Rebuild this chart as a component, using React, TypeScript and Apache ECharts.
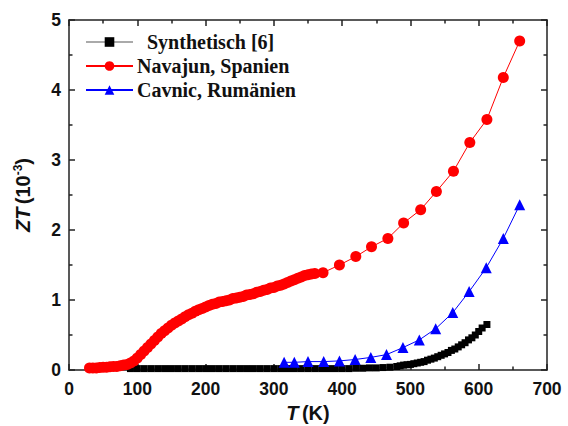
import React, { useEffect, useRef } from "react";
import * as echarts from "echarts";

const synthT = [90,100,110,120,130,140,150,160,170,180,190,200,210,220,230,240,250,260,270,280,290,300,310,320,330,340,350,360,370,380,390,400,410,420,430,440,450,460,470,480,485,490,495,500,505,510,515,520,525,530,535,540,545,550,555,560,565,570,575,580,585,590,595,600,605,612];
const synthZT = [0.02,0.02,0.02,0.02,0.02,0.02,0.02,0.02,0.02,0.02,0.02,0.02,0.02,0.02,0.02,0.02,0.02,0.02,0.02,0.02,0.02,0.02,0.02,0.02,0.02,0.02,0.02,0.02,0.02,0.02,0.02,0.02,0.02,0.025,0.025,0.03,0.03,0.035,0.04,0.05,0.06,0.07,0.075,0.08,0.09,0.1,0.11,0.12,0.14,0.155,0.17,0.19,0.21,0.23,0.25,0.28,0.3,0.33,0.36,0.39,0.43,0.46,0.5,0.55,0.6,0.65,0.75];

const navT = [30,35,40,45,50,55,60,65,70,75,80,85,90,95,100,105,110,115,120,125,130,135,140,145,150,155,160,165,170,175,180,185,190,195,200,205,210,215,220,225,230,235,240,245,250,255,260,265,270,275,280,285,290,295,300,305,310,315,320,325,330,335,340,345,350,355,360,372,396,420,443,467,490,515,538,563,587,612,636,660];
const navZT = [0.03,0.03,0.03,0.035,0.04,0.04,0.045,0.05,0.05,0.06,0.07,0.08,0.1,0.13,0.17,0.22,0.27,0.32,0.37,0.42,0.47,0.52,0.56,0.6,0.64,0.67,0.7,0.73,0.76,0.79,0.81,0.84,0.86,0.88,0.9,0.92,0.94,0.95,0.97,0.98,0.99,1.0,1.02,1.03,1.04,1.05,1.07,1.08,1.09,1.11,1.12,1.14,1.15,1.17,1.18,1.2,1.21,1.23,1.25,1.27,1.29,1.31,1.33,1.35,1.36,1.37,1.38,1.39,1.5,1.62,1.76,1.88,2.1,2.29,2.55,2.84,3.25,3.58,4.18,4.7];

const cavT = [315,330,350,373,396,419,442,465,489,513,537,562,586,611,636,660];
const cavZT = [0.11,0.11,0.12,0.12,0.13,0.15,0.18,0.22,0.32,0.43,0.59,0.82,1.12,1.46,1.88,2.36];

const xRange = { min: 0, max: 700, interval: 100 };
const yRange = { min: 0, max: 5, interval: 1 };

const zip = (a: number[], b: number[]) => a.map((v, i) => [v, b[i]]);

const INK = "#222";
const FONT = "Liberation Sans, Arial, sans-serif";
const mkLine = () => ({ show: true, onZero: false, lineStyle: { color: INK, width: 1.5 } });
const mkTick = () => ({ show: true, inside: true, length: 6, lineStyle: { color: INK, width: 1.5 } });
const mkMinor = () => ({ show: true, splitNumber: 2, length: 3.5, lineStyle: { color: INK, width: 1.5 } });
const mkLabel = (margin: number) => ({ fontFamily: FONT, fontWeight: "bold", fontSize: 17.5, color: "#111", margin });
const mkRich = () => ({
  i: { fontFamily: FONT, fontWeight: "bold", fontStyle: "italic", fontSize: 20, color: "#111" },
  n: { fontFamily: FONT, fontWeight: "bold", fontSize: 20, color: "#111" },
  s: { fontFamily: FONT, fontWeight: "bold", fontSize: 12, color: "#111", padding: [0, 0, 10, 0] },
});
const mirror = (range: object, position: string) => ({
  type: "value", position, ...range,
  axisLine: mkLine(), axisTick: mkTick(), minorTick: mkMinor(),
  splitLine: { show: false }, axisLabel: { show: false },
});

export default function App() {
  const ref = useRef<HTMLDivElement>(null);
  useEffect(() => {
    document.body.style.margin = "0";
    document.body.style.overflow = "hidden";
    if (!ref.current) return;
    const chart = echarts.init(ref.current, null, { renderer: "svg" });
    chart.setOption({
      animation: false,
      grid: { left: 69, right: 21, top: 20, bottom: 56, containLabel: false, outerBoundsMode: "none" },
      legend: {
        left: 80,
        top: 27,
        orient: "vertical",
        itemWidth: 47,
        itemHeight: 12,
        itemGap: 4,
        data: ["Synthetisch [6]", "Navajun, Spanien", "Cavnic, Rumänien"],
        formatter: (n: string) => (n.startsWith("Synth") ? "\u00a0\u00a0" + n : n),
        textStyle: { fontFamily: "Liberation Serif, Times New Roman, serif", fontWeight: "bold", fontSize: 20, color: "#111", lineHeight: 19, padding: [0, 0, 0, -1] },
      },
      xAxis: [
        {
          type: "value", position: "bottom", ...xRange,
          axisLine: mkLine(), axisTick: mkTick(), minorTick: mkMinor(), splitLine: { show: false },
          axisLabel: mkLabel(10),
          name: "{i|T} {n|(K)}", nameLocation: "middle", nameGap: 33,
          nameTextStyle: { rich: mkRich() },
        },
        mirror(xRange, "top"),
      ],
      yAxis: [
        {
          type: "value", position: "left", ...yRange,
          axisLine: mkLine(), axisTick: mkTick(), minorTick: mkMinor(), splitLine: { show: false },
          axisLabel: mkLabel(8),
          name: "{i|ZT} {n|(10}{s|-3}{n|)}", nameLocation: "middle", nameGap: 35, nameRotate: 90,
          nameTextStyle: { rich: mkRich() },
        },
        mirror(yRange, "right"),
      ],
      series: [
        {
          name: "Synthetisch [6]", type: "line", data: zip(synthT, synthZT),
          symbol: "rect", symbolSize: 7,
          itemStyle: { color: "#000" }, lineStyle: { color: "#aaa", width: 1 },
        },
        {
          name: "Navajun, Spanien", type: "line", data: zip(navT, navZT),
          symbol: "circle", symbolSize: 11,
          itemStyle: { color: "#ff0000" }, lineStyle: { color: "#ff0000", width: 1 },
        },
        {
          name: "Cavnic, Rumänien", type: "line", data: zip(cavT, cavZT),
          symbol: "triangle", symbolSize: 11,
          itemStyle: { color: "#0000ff" }, lineStyle: { color: "#0000ff", width: 1 },
        },
      ],
    });
    return () => chart.dispose();
  }, []);
  return <div ref={ref} style={{ width: 568, height: 426 }} />;
}
